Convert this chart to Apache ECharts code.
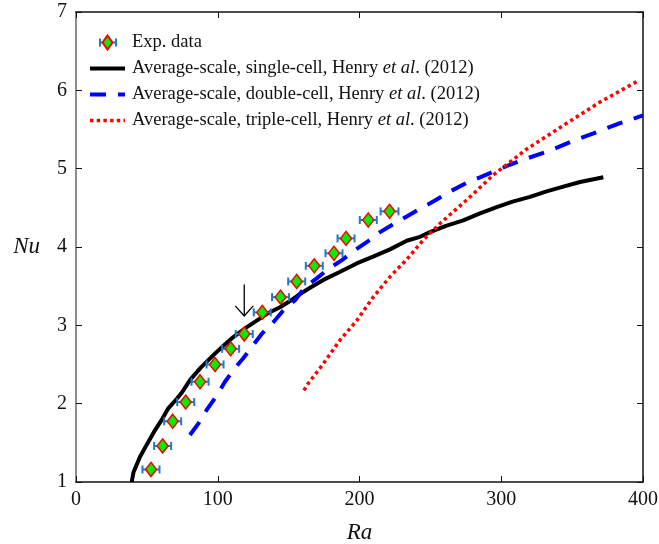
<!DOCTYPE html>
<html>
<head>
<meta charset="utf-8">
<script src="https://cdn.jsdelivr.net/npm/echarts@6/dist/echarts.min.js"></script>
<style>html,body{margin:0;padding:0;background:#fff}#c{width:659px;height:544px}</style>
</head>
<body>
<div id="c"></div>
<script>
// ---- data ----
var expRa  = [52.9, 61.1, 68.2, 77.4, 87.5, 98.1, 109.1, 118.7, 131.4, 144.3, 155.7, 168.1, 182.0, 190.5, 206.2, 221.2];
var expNu  = [1.16, 1.46, 1.775, 2.02, 2.28, 2.50, 2.70, 2.89, 3.165, 3.36, 3.56, 3.76, 3.92, 4.11, 4.345, 4.455];
var expErr = [6, 6, 6, 6, 6, 6, 6, 6, 6, 6, 6, 6, 6, 6, 6, 6.3];

var singleRa = [39.3, 40.5, 45.1, 50, 55.7, 60, 65.1, 71, 75, 80.4, 88, 96.9, 104, 111, 120, 127.5, 135, 143.9, 151, 158, 166, 174.5, 186, 198, 210, 221.5, 233.3, 242.7, 249.7, 261, 273.2, 285, 296.8, 308, 320.3, 332, 343.8, 355.6, 372];
var singleNu = [1.0, 1.12, 1.32, 1.48, 1.66, 1.78, 1.94, 2.06, 2.15, 2.30, 2.46, 2.62, 2.74, 2.85, 2.97, 3.06, 3.15, 3.23, 3.31, 3.40, 3.49, 3.58, 3.68, 3.79, 3.88, 3.97, 4.08, 4.13, 4.19, 4.27, 4.34, 4.43, 4.51, 4.58, 4.64, 4.71, 4.77, 4.83, 4.89];

var doubleRa = [80.4, 86.3, 92.2, 98.8, 105.1, 111, 118, 125.1, 131, 139.2, 146.2, 154.5, 161.6, 169.8, 178, 187.4, 196.8, 207.4, 214.5, 223.8, 233.3, 242.7, 252, 264, 275.6, 285, 294.4, 306, 318, 334.4, 350, 365, 382, 400];
var doubleNu = [1.60, 1.745, 1.92, 2.09, 2.28, 2.43, 2.58, 2.75, 2.89, 3.04, 3.19, 3.32, 3.49, 3.60, 3.72, 3.83, 3.96, 4.09, 4.19, 4.29, 4.39, 4.49, 4.58, 4.71, 4.82, 4.89, 4.96, 5.05, 5.13, 5.23, 5.35, 5.45, 5.57, 5.68];

var tripleRa = [160.8, 163.9, 174.5, 186.2, 198, 209.7, 221.5, 233.3, 245, 256.8, 266.2, 275.6, 282.7, 294.4, 318, 346.2, 369.7, 397.4];
var tripleNu = [2.17, 2.26, 2.51, 2.81, 3.06, 3.36, 3.62, 3.84, 4.09, 4.30, 4.45, 4.60, 4.72, 4.92, 5.25, 5.58, 5.85, 6.13];

var arrowRa = [118.7];
var arrowTop = [3.52];
var arrowTip = [3.12];

var xTicks = [0, 100, 200, 300, 400];
var yTicks = [1, 2, 3, 4, 5, 6, 7];

var names = ['Exp. data',
  'Average-scale, single-cell, Henry {i|et al}. (2012)',
  'Average-scale, double-cell, Henry {i|et al}. (2012)',
  'Average-scale, triple-cell, Henry {i|et al}. (2012)'];

function zip(a, b) { return a.map(function (v, i) { return [v, b[i]]; }); }

var FONT = 'Liberation Serif';
var chart = echarts.init(document.getElementById('c'), null, {renderer: 'canvas'});

var baseAxis = {
  type: 'value',
  splitLine: {show: false},
  axisTick: {show: true, inside: true, length: 6, lineStyle: {color: '#111', width: 1}},
  axisLine: {show: true, onZero: false, lineStyle: {color: '#111', width: 1.5}}
};

var LEG_LEFT = 88, LEG_TOP = 33;

var option = {
  animation: false,
  backgroundColor: '#fff',
  grid: {left: 76, right: 16, top: 12, bottom: 62, containLabel: false, outerBoundsMode: 'none'},
  xAxis: [
    Object.assign({}, baseAxis, {
      min: xTicks[0], max: xTicks[xTicks.length - 1], interval: 100, position: 'bottom',
      axisLabel: {fontFamily: FONT, fontSize: 20, color: '#111', margin: 8},
      name: 'Ra', nameLocation: 'middle', nameGap: 39,
      nameTextStyle: {fontFamily: FONT, fontSize: 23, fontStyle: 'italic', color: '#111'}
    }),
    Object.assign({}, baseAxis, {
      min: xTicks[0], max: xTicks[xTicks.length - 1], interval: 100, position: 'top',
      axisLabel: {show: false}
    })
  ],
  yAxis: [
    Object.assign({}, baseAxis, {
      min: yTicks[0], max: yTicks[yTicks.length - 1], interval: 1, position: 'left',
      axisLine: {show: true, onZero: false, lineStyle: {color: '#666', width: 1.5}},
      axisLabel: {fontFamily: FONT, fontSize: 20, color: '#111', margin: 9},
      name: 'Nu', nameLocation: 'middle', nameGap: 36, nameRotate: 0,
      nameTextStyle: {fontFamily: FONT, fontSize: 23, fontStyle: 'italic', color: '#111', align: 'right', verticalAlign: 'middle', padding: [0, 0, 8, 0]}
    }),
    Object.assign({}, baseAxis, {
      min: yTicks[0], max: yTicks[yTicks.length - 1], interval: 1, position: 'right',
      axisLabel: {show: false}
    })
  ],
  legend: {
    orient: 'vertical', left: LEG_LEFT, top: LEG_TOP, padding: 0,
    itemWidth: 35, itemHeight: 14, itemGap: 7,
    symbolKeepAspect: true,
    data: [
      {name: names[0], icon: 'path://M0,7 L5,0 L10,7 L5,14 Z'},
      {name: names[1], itemStyle: {opacity: 0}, lineStyle: {width: 4, color: '#000'}},
      {name: names[2], itemStyle: {opacity: 0}, lineStyle: {width: 4, color: '#0000ff', type: [16, 12]}},
      {name: names[3], itemStyle: {opacity: 0}, lineStyle: {width: 3.5, color: '#ff0000', type: [3.4, 3.3]}}
    ],
    textStyle: {fontFamily: FONT, fontSize: 18.5, color: '#111', padding: [0, 0, 0, 2],
      rich: {i: {fontFamily: FONT, fontSize: 18.5, fontStyle: 'italic', color: '#111'}}}
  },
  graphic: [{
    type: 'group', left: LEG_LEFT + 9.5, top: LEG_TOP + 3, z: 0, silent: true,
    children: [
      {type: 'line', shape: {x1: 0, y1: 4, x2: 16, y2: 4}, style: {stroke: '#1f7ac8', lineWidth: 2}},
      {type: 'line', shape: {x1: 0, y1: 0, x2: 0, y2: 8}, style: {stroke: '#1f7ac8', lineWidth: 2}},
      {type: 'line', shape: {x1: 16, y1: 0, x2: 16, y2: 8}, style: {stroke: '#1f7ac8', lineWidth: 2}}
    ]
  }],
  series: [
    {
      name: names[1], type: 'line', data: zip(singleRa, singleNu), showSymbol: false, symbol: 'none',
      lineStyle: {color: '#000', width: 4}, itemStyle: {color: '#000'}, z: 3
    },
    {
      name: names[2], type: 'line', data: zip(doubleRa, doubleNu), showSymbol: false, symbol: 'none',
      lineStyle: {color: '#0000ff', width: 4, type: [16, 12]}, itemStyle: {color: '#0000ff'}, z: 3
    },
    {
      name: names[3], type: 'line', data: zip(tripleRa, tripleNu), showSymbol: false, symbol: 'none',
      lineStyle: {color: '#ff0000', width: 3.5, type: [3.4, 3.3]}, itemStyle: {color: '#ff0000'}, z: 3
    },
    {
      name: 'errbars', type: 'custom',
      data: expRa.map(function (v, i) { return [v, expNu[i], expErr[i]]; }),
      renderItem: function (params, api) {
        var ra = api.value(0), nu = api.value(1), e = api.value(2);
        var l = api.coord([ra - e, nu]), r = api.coord([ra + e, nu]);
        var st = {stroke: '#1f7ac8', lineWidth: 2};
        return {type: 'group', children: [
          {type: 'line', shape: {x1: l[0], y1: l[1], x2: r[0], y2: r[1]}, style: st},
          {type: 'line', shape: {x1: l[0], y1: l[1] - 4, x2: l[0], y2: l[1] + 4}, style: st},
          {type: 'line', shape: {x1: r[0], y1: r[1] - 4, x2: r[0], y2: r[1] + 4}, style: st}
        ]};
      },
      z: 4
    },
    {
      name: names[0], type: 'scatter', data: zip(expRa, expNu), symbol: 'diamond', symbolSize: [11, 14],
      itemStyle: {color: '#00ee00', borderColor: '#ff0000', borderWidth: 1.5, opacity: 1}, z: 5
    },
    {
      name: 'arrow', type: 'custom',
      data: arrowRa.map(function (v, i) { return [v, arrowTop[i], arrowTip[i]]; }),
      renderItem: function (params, api) {
        var t = api.coord([api.value(0), api.value(1)]);
        var p = api.coord([api.value(0), api.value(2)]);
        var st = {stroke: '#000', lineWidth: 1.3, fill: 'none'};
        return {type: 'group', children: [
          {type: 'line', shape: {x1: t[0], y1: t[1], x2: p[0], y2: p[1]}, style: st},
          {type: 'polyline', shape: {points: [[p[0] - 9, p[1] - 10], [p[0], p[1]], [p[0] + 9, p[1] - 10]]}, style: st}
        ]};
      },
      z: 6
    }
  ]
};
chart.setOption(option);
</script>
</body>
</html>
